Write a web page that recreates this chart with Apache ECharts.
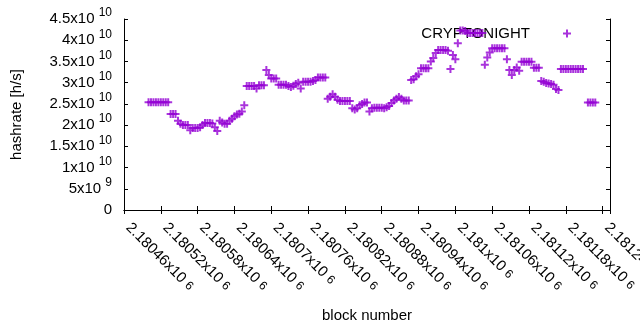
<!DOCTYPE html>
<html>
<head>
<meta charset="utf-8">
<script src="https://cdn.jsdelivr.net/npm/echarts@6/dist/echarts.min.js"></script>
<style>
html, body { margin: 0; background: #fff; }
#chart { width: 640px; height: 330px; }
</style>
</head>
<body>
<div id="chart"></div>
<script>
var seriesName = 'CRYPTONIGHT';

// block numbers: one sample every 4 blocks starting here
var firstBlock = 2180500;
var blockStep = 4;

// hashrate per sample, in units of 10^10 h/s (null = no sample)
var hashrate = [
	2.54, 2.54, 2.54, 2.54, 2.54, 2.54, 2.54, 2.54, 2.54,
	2.26, 2.26, 2.26, 2.10, 2.03, 2.00, 2.00, 2.00, 1.88,
	1.93, 1.93, 1.93, 1.95, 2.00, 2.05, 2.05, 2.05, 2.04,
	1.95, 1.86, 2.10, 2.06, 2.03, 2.03, 2.10, 2.15, 2.21,
	2.25, 2.27, 2.32, 2.47,
	2.92, 2.92, 2.92, 2.92, 2.86, 2.94, 2.94, 2.94, 3.30,
	3.18, 3.10, 3.10, 3.10,
	2.95, 2.95, 2.95, 2.95, 2.92, 2.90, 2.93, 2.97, 3.00,
	2.86, 3.02, 3.02, 3.02, 3.02, 3.04, 3.06, 3.12, 3.12,
	3.12, 3.12,
	2.62, 2.67, 2.73, 2.67, 2.60, 2.57, 2.57, 2.57, 2.57,
	2.57, 2.40, 2.37, 2.40, 2.47, 2.50, 2.53, 2.53, 2.32,
	2.40, 2.41, 2.41, 2.41, 2.41, 2.40, 2.42, 2.45, 2.52,
	2.58, 2.62, 2.66, 2.62, 2.58, 2.58, 2.58,
	3.06, 3.08, 3.15, 3.20, 3.34, 3.34, 3.34, 3.34, 3.50,
	3.58, 3.70, 3.77, 3.77, 3.77, 3.77, 3.75, 3.32, 3.65,
	3.55, 3.93, 4.23, 4.23, 4.22, 4.17, 4.17, 4.17, 4.17,
	4.17, 4.17, 4.17,
	3.42, 3.59, 3.71, 3.81, 3.81, 3.81, 3.81, 3.81, 3.81,
	3.55, 3.30, 3.18, 3.30, 3.36, 3.28, 3.49, 3.49, 3.49,
	3.49, 3.49, 3.35, 3.35, 3.35,
	3.04, 3.02, 2.99, 2.98, 2.97, 2.95, 2.85, 2.83,
	3.32, 3.32, 3.32, 3.32, 3.32, 3.32, 3.32, 3.32, 3.32,
	3.32, null, 2.53, 2.53, 2.53, 2.53
];

var xMin = 2180460, xMax = 2181252, xStep = 60;
var yMin = 0, yMax = 4.5e10, yStep = 5e9;

var plus = 'path://M3,0h2v3h3v2h-3v3h-2v-3h-3v-2h3z';

var points = [];
for (var i = 0; i < hashrate.length; i++) {
	if (hashrate[i] === null) continue;
	points.push([firstBlock + i * blockStep, hashrate[i] * 1e10]);
}

var font = 'Liberation Sans';
// y labels: raised exponent; x labels (rotated): exponent sits on the line
var richY = {
	m : { fontSize : 15, color : '#000', fontFamily : font, lineHeight : 24 },
	e : { fontSize : 12, color : '#000', fontFamily : font, lineHeight : 12, verticalAlign : 'top' }
};
var richX = {
	m : { fontSize : 15, color : '#000', fontFamily : font, lineHeight : 24 },
	e : { fontSize : 12, color : '#000', fontFamily : font, lineHeight : 24, verticalAlign : 'middle' }
};

function sci(v) {
	if (v === 0) return '{m|0}';
	var p = Math.floor(Math.log10(v) + 1e-9);
	var m = Math.round(v / Math.pow(10, p) * 100000) / 100000;
	return '{m|' + m + 'x10 }{e|' + p + '}';
}

var black = { color : '#000', width : 1 };

var myChart = echarts.init(document.getElementById('chart'));
var option = {
	animation : false,
	textStyle : { fontFamily : font },
	grid : { left : 124, right : 30, top : 19, bottom : 120, outerBoundsMode : 'none', containLabel : false },
	legend : {
		data : [ { name : seriesName, icon : plus } ],
		right : 64,
		top : 21,
		itemWidth : 64,
		itemHeight : 8,
		align : 'right',
		selectedMode : false,
		z : 1,
		textStyle : { fontSize : 15, color : '#000' }
	},
	xAxis : [ {
		type : 'value',
		min : xMin, max : xMax, interval : xStep,
		name : 'block number',
		nameLocation : 'middle',
		nameGap : 98,
		nameTextStyle : { fontSize : 15, color : '#000' },
		axisLine : { lineStyle : black },
		axisTick : { inside : true, length : 4, lineStyle : black },
		splitLine : { show : false },
		axisLabel : {
			rotate : -45,
			margin : 11,
			padding : [ 0, 0, 0, 6 ],
			formatter : function(v) { return sci(v); },
			rich : richX
		}
	}, {
		type : 'value',
		position : 'top',
		min : xMin, max : xMax, interval : xStep,
		axisLine : { lineStyle : black },
		axisTick : { inside : true, length : 4, lineStyle : black },
		splitLine : { show : false },
		axisLabel : { show : false }
	} ],
	yAxis : [ {
		type : 'value',
		min : yMin, max : yMax, interval : yStep,
		name : 'hashrate [h/s]',
		nameLocation : 'middle',
		nameGap : 100,
		nameTextStyle : { fontSize : 15, color : '#000' },
		axisLine : { show : true, lineStyle : black },
		axisTick : { show : true, inside : true, length : 4, lineStyle : black },
		splitLine : { show : false },
		axisLabel : {
			margin : 12,
			formatter : function(v) { return sci(v); },
			rich : richY
		}
	}, {
		type : 'value',
		position : 'right',
		min : yMin, max : yMax, interval : yStep,
		axisLine : { show : true, lineStyle : black },
		axisTick : { show : true, inside : true, length : 4, lineStyle : black },
		splitLine : { show : false },
		axisLabel : { show : false }
	} ],
	series : [ {
		name : seriesName,
		type : 'scatter',
		symbol : plus,
		symbolSize : 8,
		itemStyle : { color : '#9400d3' },
		data : points
	} ]
};
myChart.setOption(option);
</script>
</body>
</html>
